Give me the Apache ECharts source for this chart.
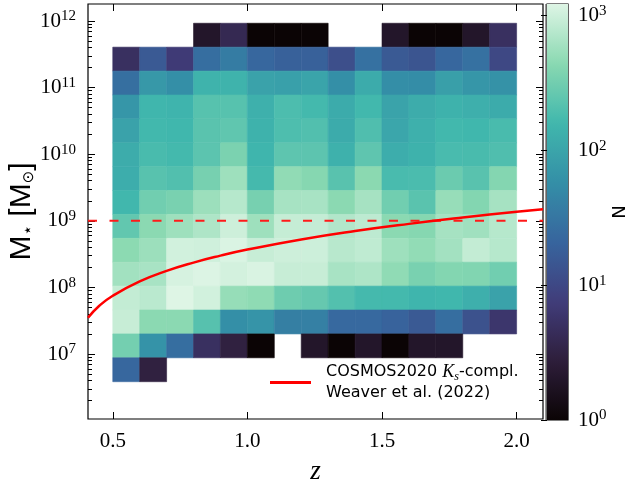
<!DOCTYPE html>
<html>
<head>
<meta charset="utf-8">
<script src="https://cdn.jsdelivr.net/npm/echarts@6/dist/echarts.min.js"></script>
<style>
  html, body { margin: 0; padding: 0; background: #fff; }
  #chart { width: 627px; height: 481px; }
</style>
</head>
<body>
<div id="chart"></div>
<script>
// Redshift bin edges
const zEdges = [0.5, 0.6, 0.7, 0.8, 0.9, 1.0, 1.1, 1.2, 1.3, 1.4, 1.5, 1.6, 1.7, 1.8, 1.9, 2.0];
// log10 stellar-mass bin edges
const logMassEdges = [6.585, 6.944, 7.302, 7.661, 8.020, 8.379, 8.737, 9.096, 9.455,
                      9.813, 10.172, 10.531, 10.889, 11.248, 11.607, 11.966];
// Galaxy counts per bin, highest-mass row first; 0 = empty bin
const countRows = [
  [0, 0, 0, 2, 4, 1, 1, 1, 0, 0, 2, 1, 1, 2, 5],
  [5, 16, 7, 26, 37, 22, 19, 19, 12, 28, 16, 14, 22, 28, 10],
  [27, 72, 58, 145, 145, 93, 90, 98, 58, 118, 56, 55, 88, 70, 62],
  [70, 155, 150, 220, 220, 135, 190, 170, 118, 165, 96, 120, 140, 132, 118],
  [95, 165, 160, 230, 250, 140, 195, 205, 118, 200, 105, 135, 165, 160, 180],
  [120, 180, 168, 235, 360, 152, 240, 238, 138, 245, 125, 140, 182, 180, 200],
  [125, 222, 205, 340, 560, 172, 480, 420, 225, 445, 182, 185, 290, 225, 410],
  [162, 315, 350, 550, 750, 340, 630, 635, 450, 620, 315, 228, 520, 400, 620],
  [255, 450, 560, 680, 990, 560, 900, 890, 720, 820, 450, 420, 620, 580, 750],
  [455, 550, 1050, 1020, 1170, 920, 990, 980, 770, 840, 560, 490, 600, 880, 750],
  [590, 635, 1110, 1200, 1070, 1150, 920, 920, 635, 680, 475, 350, 400, 390, 315],
  [880, 790, 1222, 1050, 510, 470, 300, 270, 208, 172, 168, 152, 158, 130, 93],
  [920, 450, 450, 218, 58, 66, 39, 40, 23, 23, 20, 16, 26, 13, 6],
  [325, 64, 26, 5, 3, 1, 0, 2, 1, 2, 1, 2, 2, 0, 0],
  [22, 3, 0, 0, 0, 0, 0, 0, 0, 0, 0, 0, 0, 0, 0]
];
// Ks-band mass completeness curve (Weaver et al. 2022)
const completenessZ = [0.408, 0.45, 0.5, 0.6, 0.7, 0.8, 0.9, 1.0, 1.2, 1.4, 1.6, 1.8, 2.0, 2.098];
const completenessMass = [3.5e7, 5.3e7, 7.5e7, 1.23e8, 1.77e8, 2.36e8, 3.0e8, 3.7e8,
                          5.26e8, 7.03e8, 9.0e8, 1.12e9, 1.365e9, 1.49e9];
// Horizontal mass cut
const massCut = 1e9;
// Tick labels
const zTicks = [0.5, 1.0, 1.5, 2.0];
const massTicks = [1e7, 1e8, 1e9, 1e10, 1e11, 1e12];
const countTicks = [1, 10, 100, 1000];

// Axis ranges
const zMin = 0.408, zMax = 2.098;
const massMin = Math.pow(10, 6.025), massMax = Math.pow(10, 12.255);

// "mako" colormap
const makoStops = [
  [0.000, [11, 4, 5]],
  [0.143, [46, 30, 59]],
  [0.286, [65, 61, 123]],
  [0.429, [55, 101, 158]],
  [0.571, [52, 143, 167]],
  [0.714, [64, 183, 173]],
  [0.857, [138, 217, 177]],
  [1.000, [222, 245, 229]]
];
function makoColor(f) {
  f = Math.max(0, Math.min(1, f));
  for (let i = 1; i < makoStops.length; i++) {
    const [p1, c1] = makoStops[i];
    const [p0, c0] = makoStops[i - 1];
    if (f <= p1) {
      const t = (f - p0) / (p1 - p0);
      const c = c0.map((v, k) => Math.round(v + t * (c1[k] - v)));
      return 'rgb(' + c.join(',') + ')';
    }
  }
  return 'rgb(222,245,229)';
}

const countMax = Math.max(...countRows.flat());
const logCountMax = Math.log10(countMax);

// Cells: [z0, z1, M0, M1, N]
const cells = [];
const nRows = countRows.length;
countRows.forEach((row, r) => {
  const j = nRows - 1 - r; // mass bin index from the bottom
  row.forEach((n, i) => {
    if (n > 0) {
      cells.push([zEdges[i], zEdges[i + 1],
                  Math.pow(10, logMassEdges[j]), Math.pow(10, logMassEdges[j + 1]), n]);
    }
  });
});

const curveData = completenessZ.map((z, i) => [z, completenessMass[i]]);

// Minor tick positions for log axes
function minorLogTicks(lo, hi) {
  const out = [];
  for (let k = Math.floor(Math.log10(lo)); k <= Math.ceil(Math.log10(hi)); k++) {
    for (let m = 2; m <= 9; m++) {
      const v = m * Math.pow(10, k);
      if (v > lo && v < hi) out.push(v);
    }
  }
  return out;
}

const serif = 'Liberation Serif';
const sans = 'DejaVu Sans';
const powRich = {
  b: { fontFamily: serif, fontSize: 21, color: '#000' },
  e: { fontFamily: serif, fontSize: 15, color: '#000', verticalAlign: 'top', padding: [0, 0, 9, 0] }
};
const powFormatter = v => '{b|10}{e|' + Math.round(Math.log10(v)) + '}';

const tickLine = { color: '#000', width: 1 };

const curveName = 'COSMOS2020 Ks-compl. Weaver et al. (2022)';

const chart = echarts.init(document.getElementById('chart'), null, { renderer: 'canvas' });
chart.setOption({
  animation: false,
  backgroundColor: '#fff',
  grid: [
    { left: 88, top: 4, width: 455, height: 415, show: true, borderColor: '#000', borderWidth: 1.2,
      backgroundColor: 'transparent', containLabel: false, outerBoundsMode: 'none' },
    { left: 547, top: 4, width: 21, height: 416, show: true, borderColor: '#000', borderWidth: 1.2,
      backgroundColor: 'transparent', containLabel: false, outerBoundsMode: 'none' }
  ],
  xAxis: [
    {
      gridIndex: 0, type: 'value', min: zMin, max: zMax, position: 'bottom',
      axisLine: { show: false }, splitLine: { show: false },
      axisTick: { show: true, inside: true, length: 7, lineStyle: tickLine, customValues: zTicks },
      axisLabel: { show: true, customValues: zTicks, margin: 12, formatter: v => v.toFixed(1),
                   fontFamily: serif, fontSize: 21, color: '#000' },
      name: 'z', nameLocation: 'middle', nameGap: 39, nameMoveOverlap: false,
      nameTextStyle: { fontFamily: serif, fontStyle: 'italic', fontSize: 27, color: '#000' }
    },
    {
      gridIndex: 0, type: 'value', min: zMin, max: zMax, position: 'top',
      axisLine: { show: false }, splitLine: { show: false },
      axisTick: { show: true, inside: true, length: 7, lineStyle: tickLine, customValues: zTicks },
      axisLabel: { show: false }
    },
    { gridIndex: 1, type: 'value', min: 0, max: 1, show: false }
  ],
  yAxis: [
    {
      gridIndex: 0, type: 'log', logBase: 10, min: massMin, max: massMax, position: 'left',
      axisLine: { show: false }, splitLine: { show: false },
      axisTick: { show: true, inside: true, length: 7, lineStyle: tickLine, customValues: massTicks },
      axisLabel: { show: true, customValues: massTicks, margin: 12, formatter: powFormatter, rich: powRich },
      name: '{m|M}{s|⋆}{m| [M}{o|⊙}{m|]}', nameLocation: 'middle', nameRotate: 90, nameGap: 51,
      nameMoveOverlap: false,
      nameTextStyle: {
        rich: {
          m: { fontFamily: 'Liberation Sans', fontSize: 30, color: '#000' },
          s: { fontFamily: sans, fontSize: 17, color: '#000', verticalAlign: 'bottom' },
          o: { fontFamily: sans, fontSize: 15, color: '#000', verticalAlign: 'bottom' }
        }
      }
    },
    {
      gridIndex: 0, type: 'log', logBase: 10, min: massMin, max: massMax, position: 'left',
      axisLine: { show: false }, splitLine: { show: false },
      axisTick: { show: true, inside: true, length: 4, lineStyle: tickLine, customValues: minorLogTicks(massMin, massMax) },
      axisLabel: { show: false }
    },
    {
      gridIndex: 0, type: 'log', logBase: 10, min: massMin, max: massMax, position: 'right',
      axisLine: { show: false }, splitLine: { show: false },
      axisTick: { show: true, inside: true, length: 7, lineStyle: tickLine, customValues: massTicks },
      axisLabel: { show: false }
    },
    {
      gridIndex: 0, type: 'log', logBase: 10, min: massMin, max: massMax, position: 'right',
      axisLine: { show: false }, splitLine: { show: false },
      axisTick: { show: true, inside: true, length: 4, lineStyle: tickLine, customValues: minorLogTicks(massMin, massMax) },
      axisLabel: { show: false }
    },
    {
      gridIndex: 1, type: 'log', logBase: 10, min: 1, max: countMax, position: 'right',
      axisLine: { show: false }, splitLine: { show: false },
      axisTick: { show: true, inside: true, length: 6, lineStyle: tickLine, customValues: countTicks },
      axisLabel: { show: true, customValues: countTicks, margin: 10, formatter: powFormatter, rich: powRich },
      name: 'N', nameLocation: 'middle', nameRotate: -90, nameGap: 40, nameMoveOverlap: false,
      nameTextStyle: { fontFamily: sans, fontSize: 18, color: '#000' }
    },
    {
      gridIndex: 1, type: 'log', logBase: 10, min: 1, max: countMax, position: 'right',
      axisLine: { show: false }, splitLine: { show: false },
      axisTick: { show: true, inside: true, length: 3.5, lineStyle: tickLine, customValues: minorLogTicks(1, countMax) },
      axisLabel: { show: false }
    }
  ],
  legend: {
    left: 270, top: 363, orient: 'vertical', selectedMode: false, padding: 0,
    itemWidth: 41, itemHeight: 3,
    data: [{ name: curveName, icon: 'rect' }],
    formatter: () => '{t|COSMOS2020 }{k|K}{sub|s}{t|-compl.}\n{t|Weaver et al. (2022)}',
    textStyle: {
      padding: [0, 0, 0, 10],
      rich: {
        t: { fontFamily: sans, fontSize: 16, lineHeight: 21, color: '#000' },
        k: { fontFamily: serif, fontStyle: 'italic', fontSize: 18, lineHeight: 21, color: '#000' },
        sub: { fontFamily: serif, fontStyle: 'italic', fontSize: 12, lineHeight: 21, color: '#000', verticalAlign: 'bottom' }
      }
    }
  },
  graphic: [
    // thin grey rim between the panel and the colour bar
    { type: 'line', shape: { x1: 545.5, y1: 4, x2: 545.5, y2: 420 }, style: { stroke: '#999', lineWidth: 1 }, silent: true }
  ],
  series: [
    {
      type: 'custom', name: 'counts', xAxisIndex: 0, yAxisIndex: 0, clip: true, z: 1,
      data: cells,
      encode: { x: [0, 1], y: [2, 3] },
      renderItem: (params, api) => {
        const p0 = api.coord([api.value(0), api.value(3)]);
        const p1 = api.coord([api.value(1), api.value(2)]);
        const c = makoColor(Math.log10(api.value(4)) / logCountMax);
        return {
          type: 'rect',
          shape: { x: p0[0], y: p0[1], width: p1[0] - p0[0], height: p1[1] - p0[1] },
          style: { fill: c, stroke: c, lineWidth: 0.6 }
        };
      }
    },
    {
      type: 'custom', name: 'colorbar', xAxisIndex: 2, yAxisIndex: 4, z: 1,
      data: [[0, 1, 1, countMax]],
      encode: { x: [0, 1], y: [2, 3] },
      renderItem: (params, api) => {
        const p0 = api.coord([api.value(0), api.value(3)]);
        const p1 = api.coord([api.value(1), api.value(2)]);
        const stops = [];
        for (let i = 0; i <= 40; i++) {
          stops.push({ offset: i / 40, color: makoColor(1 - i / 40) });
        }
        return {
          type: 'rect',
          shape: { x: p0[0], y: p0[1], width: p1[0] - p0[0], height: p1[1] - p0[1] },
          style: { fill: new echarts.graphic.LinearGradient(0, 0, 0, 1, stops) }
        };
      }
    },
    {
      type: 'line', name: 'mass cut', xAxisIndex: 0, yAxisIndex: 0, z: 3,
      data: [[zMin, massCut], [zMax, massCut]],
      symbol: 'none', silent: true,
      lineStyle: { color: '#ff1a1a', width: 2, type: [9, 12.5] }
    },
    {
      type: 'line', name: curveName, xAxisIndex: 0, yAxisIndex: 0, z: 4,
      data: curveData, smooth: true, symbol: 'none', clip: true,
      itemStyle: { color: '#ff0000' },
      lineStyle: { color: '#ff0000', width: 2.5 }
    }
  ]
});
</script>
</body>
</html>
